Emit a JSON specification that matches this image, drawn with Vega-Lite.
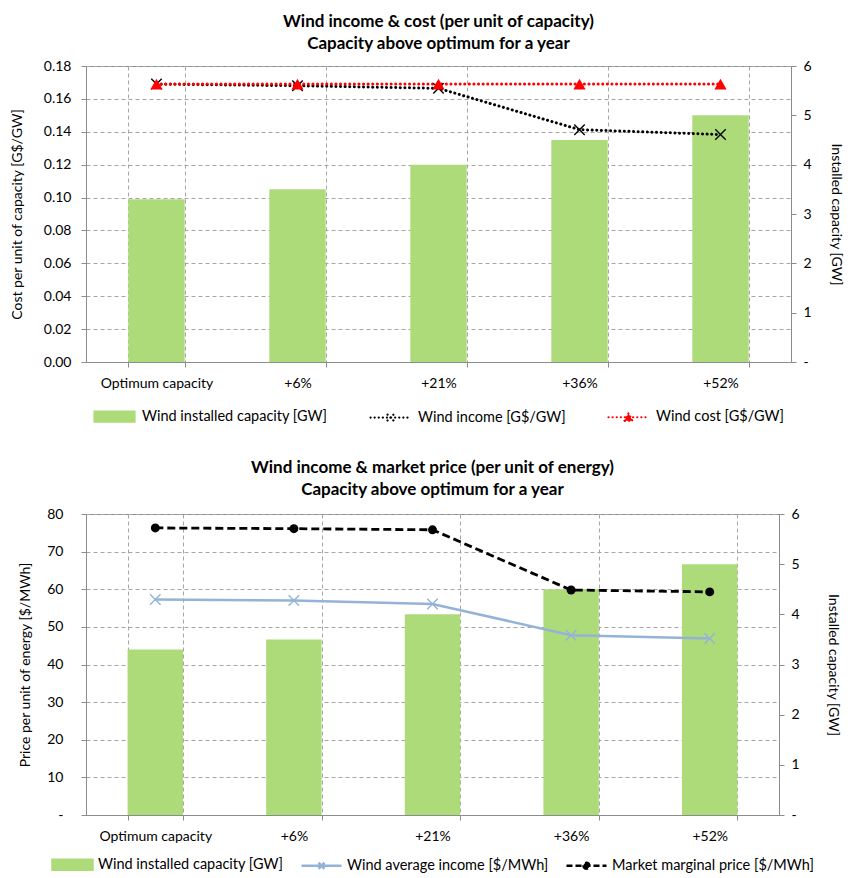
{
  "$schema": "https://vega.github.io/schema/vega-lite/v6.json",
  "background": "white",
  "padding": {"left": 9, "top": 12, "right": 5, "bottom": 5},
  "spacing": 31,
  "resolve": {"scale": {"color": "independent"}, "legend": {"color": "independent"}},
  "config": {
    "font": "Lato",
    "view": {"stroke": "#8c8c8c"},
    "axis": {
      "labelFontSize": 14, "titleFontSize": 14, "titleFontWeight": "normal",
      "labelColor": "#000", "titleColor": "#000",
      "domainColor": "#8c8c8c", "tickColor": "#8c8c8c",
      "gridColor": "#a6a6a6", "gridDash": [4, 3], "tickSize": 5
    },
    "title": {"fontSize": 17, "fontWeight": "bold", "lineHeight": 22, "color": "#000", "offset": 6},
    "legend": {"labelFontSize": 14.5, "labelColor": "#000", "labelLimit": 400, "layout": {"bottom": {"anchor": "middle"}}}
  },
  "datasets": {
    "capTop": [
      {"cat": "Optimum capacity", "series": "Wind installed capacity [GW]", "gw": 3.3},
      {"cat": "+6%", "series": "Wind installed capacity [GW]", "gw": 3.5},
      {"cat": "+21%", "series": "Wind installed capacity [GW]", "gw": 4.0},
      {"cat": "+36%", "series": "Wind installed capacity [GW]", "gw": 4.5},
      {"cat": "+52%", "series": "Wind installed capacity [GW]", "gw": 5.0}
    ],
    "linesTop": [
      {"cat": "Optimum capacity", "series": "Wind income [G$/GW]", "v": 0.169},
      {"cat": "+6%", "series": "Wind income [G$/GW]", "v": 0.168},
      {"cat": "+21%", "series": "Wind income [G$/GW]", "v": 0.1664},
      {"cat": "+36%", "series": "Wind income [G$/GW]", "v": 0.1413},
      {"cat": "+52%", "series": "Wind income [G$/GW]", "v": 0.1383},
      {"cat": "Optimum capacity", "series": "Wind cost [G$/GW]", "v": 0.169},
      {"cat": "+6%", "series": "Wind cost [G$/GW]", "v": 0.169},
      {"cat": "+21%", "series": "Wind cost [G$/GW]", "v": 0.169},
      {"cat": "+36%", "series": "Wind cost [G$/GW]", "v": 0.169},
      {"cat": "+52%", "series": "Wind cost [G$/GW]", "v": 0.169}
    ],
    "linesBot": [
      {"cat": "Optimum capacity", "series": "Wind average income [$/MWh]", "v": 57.3},
      {"cat": "+6%", "series": "Wind average income [$/MWh]", "v": 57.0},
      {"cat": "+21%", "series": "Wind average income [$/MWh]", "v": 56.1},
      {"cat": "+36%", "series": "Wind average income [$/MWh]", "v": 47.8},
      {"cat": "+52%", "series": "Wind average income [$/MWh]", "v": 46.9},
      {"cat": "Optimum capacity", "series": "Market marginal price [$/MWh]", "v": 76.3},
      {"cat": "+6%", "series": "Market marginal price [$/MWh]", "v": 76.1},
      {"cat": "+21%", "series": "Market marginal price [$/MWh]", "v": 75.8},
      {"cat": "+36%", "series": "Market marginal price [$/MWh]", "v": 59.8},
      {"cat": "+52%", "series": "Market marginal price [$/MWh]", "v": 59.3}
    ]
  },
  "vconcat": [
    {
      "title": {"text": ["Wind income & cost  (per unit of capacity)", "Capacity above optimum for a year"]},
      "width": 705,
      "height": 296,
      "resolve": {"scale": {"y": "independent"}},
      "layer": [
        {
          "data": {"name": "capTop"},
          "mark": {"type": "bar"},
          "encoding": {
            "x": {
              "field": "cat", "type": "nominal", "sort": null,
              "scale": {"domain": ["Optimum capacity", "+6%", "+21%", "+36%", "+52%"], "paddingInner": 0.6, "paddingOuter": 0.3},
              "axis": {"title": null, "labelAngle": 0, "tickBand": "extent", "grid": true, "labelPadding": 9}
            },
            "y": {
              "field": "gw", "type": "quantitative",
              "scale": {"domain": [0, 6], "nice": false},
              "axis": {"orient": "right", "title": "Installed capacity [GW]", "values": [0, 1, 2, 3, 4, 5, 6], "labelExpr": "datum.value == 0 ? '-' : datum.label", "grid": false, "labelPadding": 7, "titlePadding": 17}
            },
            "color": {
              "field": "series", "type": "nominal",
              "scale": {"domain": ["Wind installed capacity [GW]", "Wind income [G$/GW]", "Wind cost [G$/GW]"], "range": ["#aedb7a", "#000000", "#ff0000"]},
              "legend": {
                "title": null, "orient": "bottom", "direction": "horizontal", "offset": 5,
                "symbolSize": 1600, "labelOffset": 6, "columnPadding": 38,
                "encode": {
                  "symbols": {
                    "update": {
                      "shape": {"signal": "datum.value == 'Wind installed capacity [GW]' ? 'M-1,-0.25H1V0.25H-1Z' : datum.value == 'Wind income [G$/GW]' ? 'M-1,0H1M-0.15,-0.15L0.15,0.15M-0.15,0.15L0.15,-0.15' : 'M-1,0H1M-0.2,0.18L0,-0.2L0.2,0.18Z'"},
                      "fill": {"signal": "datum.value == 'Wind installed capacity [GW]' ? '#aedb7a' : datum.value == 'Wind income [G$/GW]' ? 'transparent' : '#ff0000'"},
                      "stroke": {"signal": "datum.value == 'Wind installed capacity [GW]' ? 'transparent' : datum.value == 'Wind income [G$/GW]' ? '#000000' : '#ff0000'"},
                      "strokeDash": {"signal": "datum.value == 'Wind installed capacity [GW]' ? [] : [0.1, 4]"},
                      "strokeCap": {"value": "round"},
                      "strokeWidth": {"value": 2.2},
                      "size": {"value": 1600},
                      "opacity": {"value": 1}
                    }
                  }
                }
              }
            }
          }
        },
        {
          "data": {"name": "linesTop"},
          "encoding": {
            "x": {"field": "cat", "type": "nominal", "sort": null},
            "y": {
              "field": "v", "type": "quantitative",
              "scale": {"domain": [0, 0.18], "nice": false},
              "axis": {"orient": "left", "title": "Cost per unit of capacity [G$/GW]", "values": [0, 0.02, 0.04, 0.06, 0.08, 0.1, 0.12, 0.14, 0.16, 0.18], "format": ".2f", "grid": true, "labelPadding": 10, "titlePadding": 19}
            }
          },
          "layer": [
            {
              "transform": [{"filter": "datum.series == 'Wind income [G$/GW]'"}],
              "mark": {"type": "line", "strokeDash": [0.1, 4.5], "strokeCap": "round", "strokeWidth": 3},
              "encoding": {"color": {"field": "series", "type": "nominal"}}
            },
            {
              "transform": [{"filter": "datum.series == 'Wind cost [G$/GW]'"}],
              "mark": {"type": "line", "strokeDash": [0.1, 4.5], "strokeCap": "round", "strokeWidth": 3},
              "encoding": {"color": {"field": "series", "type": "nominal"}}
            },
            {
              "transform": [{"filter": "datum.series == 'Wind income [G$/GW]'"}],
              "mark": {"type": "point", "shape": "M-1,-1L1,1M-1,1L1,-1", "filled": false, "stroke": "#000000", "strokeWidth": 1.4, "size": 110, "opacity": 1}
            },
            {
              "transform": [{"filter": "datum.series == 'Wind cost [G$/GW]'"}],
              "mark": {"type": "point", "shape": "triangle-up", "filled": true, "fill": "#ff0000", "size": 150, "opacity": 1}
            }
          ]
        }
      ]
    },
    {
      "title": {"text": ["Wind income & market price (per unit of energy)", "Capacity above optimum for a year"], "offset": 8},
      "width": 693,
      "height": 301,
      "resolve": {"scale": {"y": "independent"}},
      "layer": [
        {
          "data": {"name": "capTop"},
          "mark": {"type": "bar"},
          "encoding": {
            "x": {
              "field": "cat", "type": "nominal", "sort": null,
              "scale": {"domain": ["Optimum capacity", "+6%", "+21%", "+36%", "+52%"], "paddingInner": 0.6, "paddingOuter": 0.3},
              "axis": {"title": null, "labelAngle": 0, "tickBand": "extent", "grid": true, "labelPadding": 9}
            },
            "y": {
              "field": "gw", "type": "quantitative",
              "scale": {"domain": [0, 6], "nice": false},
              "axis": {"orient": "right", "title": "Installed capacity [GW]", "values": [0, 1, 2, 3, 4, 5, 6], "labelExpr": "datum.value == 0 ? '-' : datum.label", "grid": false, "labelPadding": 7, "titlePadding": 26}
            },
            "color": {
              "field": "series", "type": "nominal",
              "scale": {"domain": ["Wind installed capacity [GW]", "Wind average income [$/MWh]", "Market marginal price [$/MWh]"], "range": ["#aedb7a", "#95b3d7", "#000000"]},
              "legend": {
                "title": null, "orient": "bottom", "direction": "horizontal", "offset": 0,
                "symbolSize": 1600, "labelOffset": 4, "columnPadding": 12,
                "encode": {
                  "symbols": {
                    "update": {
                      "shape": {"signal": "datum.value == 'Wind installed capacity [GW]' ? 'M-1,-0.25H1V0.25H-1Z' : datum.value == 'Wind average income [$/MWh]' ? 'M-1,0H1M-0.15,-0.15L0.15,0.15M-0.15,0.15L0.15,-0.15' : 'M-1,0H1M-0.15,0A0.15,0.15 0 1,0 0.15,0A0.15,0.15 0 1,0 -0.15,0Z'"},
                      "fill": {"signal": "datum.value == 'Market marginal price [$/MWh]' ? '#000000' : datum.value == 'Wind installed capacity [GW]' ? '#aedb7a' : 'transparent'"},
                      "stroke": {"signal": "datum.value == 'Wind installed capacity [GW]' ? 'transparent' : datum.value == 'Wind average income [$/MWh]' ? '#95b3d7' : '#000000'"},
                      "strokeDash": {"signal": "datum.value == 'Market marginal price [$/MWh]' ? [6, 3] : []"},
                      "strokeWidth": {"value": 2.5},
                      "size": {"value": 1600},
                      "opacity": {"value": 1}
                    }
                  }
                }
              }
            }
          }
        },
        {
          "data": {"name": "linesBot"},
          "encoding": {
            "x": {"field": "cat", "type": "nominal", "sort": null},
            "y": {
              "field": "v", "type": "quantitative",
              "scale": {"domain": [0, 80], "nice": false},
              "axis": {"orient": "left", "title": "Price per unit of energy [$/MWh]", "values": [0, 10, 20, 30, 40, 50, 60, 70, 80], "labelExpr": "datum.value == 0 ? '-' : datum.label", "grid": true, "labelPadding": 18, "titlePadding": 14}
            }
          },
          "layer": [
            {
              "transform": [{"filter": "datum.series == 'Wind average income [$/MWh]'"}],
              "mark": {"type": "line", "strokeWidth": 2.5},
              "encoding": {"color": {"field": "series", "type": "nominal"}}
            },
            {
              "transform": [{"filter": "datum.series == 'Market marginal price [$/MWh]'"}],
              "mark": {"type": "line", "strokeDash": [8, 4], "strokeWidth": 2.8},
              "encoding": {"color": {"field": "series", "type": "nominal"}}
            },
            {
              "transform": [{"filter": "datum.series == 'Wind average income [$/MWh]'"}],
              "mark": {"type": "point", "shape": "M-1,-1L1,1M-1,1L1,-1", "filled": false, "stroke": "#95b3d7", "strokeWidth": 1.4, "size": 110, "opacity": 1}
            },
            {
              "transform": [{"filter": "datum.series == 'Market marginal price [$/MWh]'"}],
              "mark": {"type": "point", "shape": "circle", "filled": true, "fill": "#000000", "size": 80, "opacity": 1}
            }
          ]
        }
      ]
    }
  ]
}
